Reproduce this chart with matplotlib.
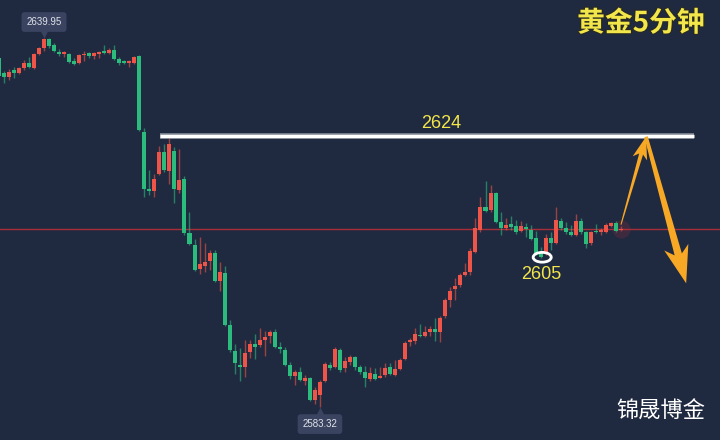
import numpy as np
import matplotlib
matplotlib.use("Agg")
import matplotlib.pyplot as plt
import matplotlib.patheffects as pe
from matplotlib.patches import Ellipse, Polygon
from matplotlib.transforms import IdentityTransform

# 5-minute gold candles (price values)
opens = [2636.9, 2634.6, 2634.0, 2635.0, 2634.6, 2635.3, 2636.1, 2635.3, 2637.5, 2638.4,
         2639.8, 2638.9, 2637.8, 2637.5, 2637.5, 2636.4, 2636.1, 2637.3, 2637.6, 2637.2,
         2637.5, 2638.0, 2637.6, 2638.1, 2636.7, 2636.4, 2636.1, 2636.1, 2637.2, 2625.5,
         2616.8, 2616.5, 2619.1, 2622.4, 2619.5, 2622.6, 2616.6, 2618.3, 2610.0, 2608.2,
         2604.5, 2605.0, 2605.7, 2606.9, 2602.6, 2603.9, 2595.9, 2591.9, 2589.8, 2589.4,
         2591.8, 2593.0, 2592.8, 2593.6, 2594.2, 2594.8, 2592.5, 2592.1, 2589.8, 2588.1,
         2588.7, 2587.3, 2587.8, 2584.4, 2585.1, 2587.3, 2589.8, 2589.4, 2592.1, 2589.3,
         2590.2, 2591.0, 2589.4, 2588.7, 2587.6, 2588.4, 2587.8, 2588.2, 2589.4, 2588.2,
         2589.1, 2590.7, 2593.3, 2593.4, 2594.4, 2594.2, 2594.8, 2595.3, 2594.8, 2597.3,
         2599.7, 2601.4, 2602.0, 2603.6, 2604.0, 2607.1, 2610.5, 2614.0, 2613.5, 2616.2,
         2611.7, 2610.8, 2611.4, 2611.1, 2610.3, 2610.9, 2610.5, 2609.2, 2606.9, 2607.1,
         2609.2, 2608.5, 2611.9, 2610.8, 2610.2, 2609.7, 2611.9, 2610.2, 2608.5, 2610.3,
         2610.2, 2610.2, 2611.1, 2611.6, 2610.5]
closes = [2634.1, 2634.0, 2634.7, 2634.6, 2635.3, 2636.1, 2635.5, 2637.5, 2638.4, 2639.8,
          2638.7, 2637.9, 2637.5, 2637.8, 2636.3, 2636.0, 2637.3, 2637.5, 2637.2, 2637.6,
          2637.8, 2637.6, 2638.1, 2636.7, 2636.1, 2636.1, 2636.4, 2637.0, 2625.8, 2616.8,
          2616.5, 2618.3, 2622.4, 2619.7, 2623.7, 2616.8, 2618.2, 2610.0, 2608.3, 2604.3,
          2605.3, 2605.6, 2606.9, 2602.6, 2604.0, 2595.9, 2592.1, 2590.1, 2589.4, 2591.6,
          2593.0, 2592.5, 2593.6, 2594.1, 2594.8, 2592.5, 2592.2, 2589.8, 2588.1, 2588.7,
          2587.5, 2587.8, 2584.4, 2585.9, 2587.1, 2589.9, 2589.3, 2592.2, 2589.0, 2590.4,
          2591.0, 2589.4, 2588.7, 2587.8, 2588.5, 2587.6, 2588.1, 2589.3, 2588.4, 2589.1,
          2590.5, 2593.1, 2593.6, 2594.5, 2594.2, 2594.8, 2595.3, 2594.8, 2597.0, 2599.7,
          2601.1, 2601.9, 2603.6, 2604.0, 2607.2, 2610.8, 2614.0, 2613.4, 2616.2, 2611.7,
          2610.8, 2611.2, 2610.9, 2610.2, 2611.1, 2610.6, 2609.1, 2606.9, 2606.3, 2609.2,
          2608.5, 2612.0, 2610.8, 2610.2, 2609.7, 2611.9, 2610.2, 2608.3, 2610.2, 2610.2,
          2610.5, 2611.2, 2611.6, 2610.3, 2610.7]
highs = [2637.2, 2634.9, 2635.2, 2635.5, 2635.5, 2636.6, 2637.0, 2637.6, 2638.6, 2639.95,
         2639.9, 2639.2, 2638.3, 2638.0, 2637.6, 2636.9, 2637.5, 2638.0, 2637.8, 2637.8,
         2638.0, 2638.9, 2638.4, 2638.9, 2637.0, 2636.6, 2636.6, 2637.2, 2637.3, 2626.1,
         2619.7, 2619.1, 2623.4, 2623.7, 2624.6, 2623.2, 2622.9, 2618.8, 2613.2, 2609.1,
         2609.4, 2608.5, 2607.4, 2607.4, 2605.6, 2605.0, 2596.7, 2593.0, 2592.4, 2593.6,
         2593.6, 2594.5, 2595.4, 2595.0, 2595.1, 2595.3, 2593.3, 2592.5, 2590.2, 2589.0,
         2589.4, 2588.2, 2587.9, 2586.4, 2587.5, 2590.2, 2590.2, 2592.5, 2592.4, 2591.0,
         2591.3, 2591.1, 2589.8, 2589.6, 2589.4, 2589.3, 2589.4, 2590.1, 2590.1, 2590.5,
         2590.8, 2593.4, 2593.9, 2595.4, 2596.0, 2595.7, 2595.7, 2597.0, 2597.3, 2600.0,
         2601.7, 2603.1, 2603.9, 2605.4, 2607.7, 2612.3, 2615.5, 2618.0, 2617.4, 2616.3,
         2613.2, 2612.3, 2612.6, 2612.0, 2611.8, 2611.5, 2611.2, 2610.3, 2607.9, 2609.9,
         2610.2, 2614.0, 2612.3, 2611.7, 2611.2, 2612.9, 2612.3, 2610.3, 2610.3, 2611.4,
         2610.8, 2611.6, 2611.7, 2611.9, 2611.1]
lows = [2633.5, 2633.0, 2633.5, 2633.8, 2634.4, 2635.0, 2635.3, 2635.2, 2637.3, 2638.0,
        2638.4, 2637.8, 2637.2, 2637.0, 2636.1, 2635.8, 2636.0, 2636.4, 2636.9, 2636.7,
        2636.9, 2637.5, 2637.5, 2636.6, 2635.8, 2636.0, 2635.5, 2636.0, 2625.7, 2615.5,
        2615.8, 2615.5, 2618.9, 2619.4, 2617.5, 2614.6, 2616.2, 2609.7, 2608.2, 2604.2,
        2603.7, 2604.0, 2604.3, 2602.5, 2601.1, 2595.7, 2591.8, 2588.4, 2587.3, 2587.9,
        2590.8, 2590.7, 2592.5, 2591.1, 2593.1, 2592.4, 2591.6, 2589.6, 2587.6, 2586.7,
        2587.3, 2586.7, 2584.2, 2583.8, 2583.32, 2587.1, 2589.0, 2589.3, 2588.7, 2588.7,
        2589.8, 2589.0, 2588.4, 2586.4, 2587.3, 2587.5, 2587.7, 2587.9, 2588.2, 2588.1,
        2589.0, 2590.5, 2592.7, 2593.0, 2594.1, 2594.1, 2594.2, 2593.4, 2593.3, 2597.0,
        2598.7, 2599.7, 2601.7, 2603.4, 2603.6, 2606.9, 2610.2, 2613.2, 2613.2, 2611.6,
        2609.7, 2610.5, 2610.5, 2609.9, 2610.2, 2609.4, 2609.0, 2606.6, 2606.2, 2606.6,
        2607.4, 2608.3, 2610.5, 2609.9, 2609.5, 2609.5, 2609.9, 2607.7, 2608.2, 2610.0,
        2609.7, 2610.0, 2611.0, 2610.2, 2610.3]

title = "黄金5分钟"
brand = "锦晟博金"
high_label = "2639.95"
low_label = "2583.32"
resistance_label = "2624"
support_label = "2605"

bg = "#1f2940"
up_col = "#ef5448"     # red = rising (Chinese convention)
down_col = "#2bbb7c"   # green = falling
yellow = "#f2e64a"
orange = "#f7a825"

o = np.array(opens)
c = np.array(closes)
h = np.array(highs)
l = np.array(lows)
x = np.arange(len(o))
cols = np.where(c >= o, up_col, down_col)

fig = plt.figure(figsize=(7.2, 4.4), dpi=100)
fig.patch.set_facecolor(bg)
ax = fig.add_axes([0, 0, 1, 1])
ax.set_facecolor(bg)
ax.set_xlim(0.23, 143.74)
ax.set_ylim(2578.26, 2645.78)
ax.axis("off")

# candles
ax.vlines(x, l, h, colors=cols, lw=1.0, alpha=0.6, zorder=2)
body = np.maximum(np.abs(c - o), 0.16)
ax.bar(x, body, bottom=np.minimum(o, c), width=0.8, color=cols, lw=0, zorder=3)

# last price line + pulse
ax.axhline(c[-1], color="#b8303a", lw=1.0, alpha=0.9, zorder=1)
ax.scatter([x[-1]], [c[-1]], s=170, color="#b0303a", alpha=0.22, lw=0, zorder=2)

# high / low flags
ax.text(x[np.argmax(h)], 2642.4, high_label, ha="center", va="center", fontsize=7,
        color="#dfe2ea", family="Liberation Sans",
        bbox=dict(boxstyle="round,pad=0.5,rounding_size=0.3", fc="#3a4460", ec="none"))
ax.plot(x[np.argmax(h)], 2640.7, marker="v", ms=7, color="#3a4460", mec="none")
ax.text(x[np.argmin(l)], 2580.7, low_label, ha="center", va="center", fontsize=7,
        color="#dfe2ea", family="Liberation Sans",
        bbox=dict(boxstyle="round,pad=0.5,rounding_size=0.3", fc="#3a4460", ec="none"))
ax.plot(x[np.argmin(l)], 2582.5, marker="^", ms=7, color="#3a4460", mec="none")

# resistance line drawn on the chart
res_y = 2624.9
ax.plot([32.1, 138.6], [res_y, res_y], color="white", lw=2.4, solid_capstyle="butt", zorder=4,
        path_effects=[pe.Stroke(linewidth=4, foreground="#8a909c"), pe.Normal()])
ax.text(88.1, 2626.8, resistance_label, ha="center", va="center", fontsize=13,
        color=yellow, family="Liberation Sans", zorder=5)

# support circle
ax.add_patch(Ellipse((108.3, 2606.3), 3.6, 1.5, fill=False, ec="white", lw=2, zorder=5))
ax.text(108.1, 2603.6, support_label, ha="center", va="center", fontsize=13,
        color=yellow, family="Liberation Sans", zorder=5)


def taper_arrow(p0, p1, w0, w1, head_w, head_len, color):
    a = ax.transData.transform(p0)
    b = ax.transData.transform(p1)
    d = b - a
    u = d / np.hypot(*d)
    n = np.array([-u[1], u[0]])
    base = b - u * head_len
    pts = [a + n * w0 / 2, base + n * w1 / 2, base - u * head_len * 0.25 + n * head_w / 2, b,
           base - u * head_len * 0.25 - n * head_w / 2, base - n * w1 / 2, a - n * w0 / 2]
    ax.add_patch(Polygon(pts, closed=True, fc=color, ec="none",
                         transform=IdentityTransform(), zorder=6))


apex = (129.0, 2624.8)
target = (137.0, 2602.3)
taper_arrow((x[-1], c[-1] + 0.6), apex, 1.0, 4.0, 15, 18, orange)
taper_arrow(apex, target, 3.5, 7.5, 25, 30, orange)

fig.text(0.890, 0.947, title, ha="center", va="center", fontsize=20, fontweight="bold",
         color=yellow, family=["Noto Sans CJK SC", "DejaVu Sans"],
         path_effects=[pe.withStroke(linewidth=1.5, foreground="#2a2a20")])
fig.text(0.918, 0.065, brand, ha="center", va="center", fontsize=16,
         color="white", family=["Noto Sans CJK SC", "DejaVu Sans"])

fig.savefig("out.png", dpi=100, facecolor=bg)
